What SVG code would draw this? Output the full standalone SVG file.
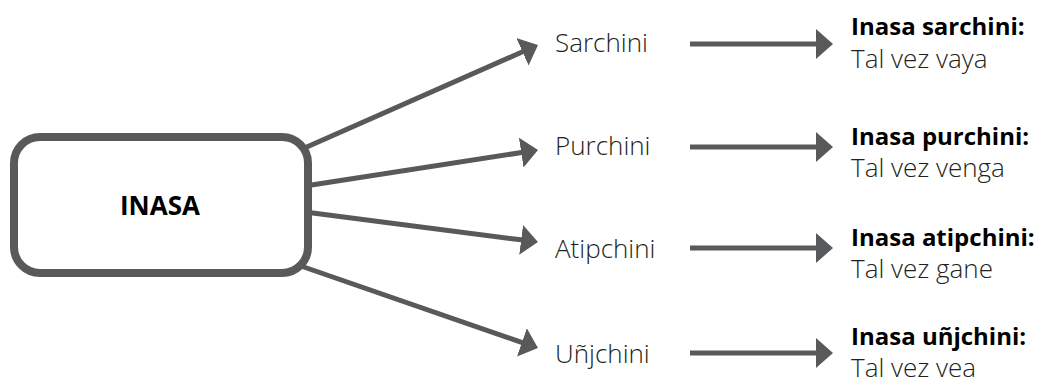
<svg xmlns="http://www.w3.org/2000/svg" width="1049" height="390" viewBox="0 0 1049 390">
<style>
.conn{stroke:#58595b;stroke-width:5;fill:none;marker-end:url(#ah)}
.box{fill:#fff;stroke:#58595b;stroke-width:8}
.main{font-family:"Open Sans","Liberation Sans",sans-serif;font-weight:700;font-size:26px;fill:#000}
.lbl{font-family:"Open Sans","Liberation Sans",sans-serif;font-weight:300;font-size:26px;fill:#231f20}
.hd{font-family:"Open Sans","Liberation Sans",sans-serif;font-weight:700;font-size:24px;fill:#000}
.sub{font-family:"Open Sans","Liberation Sans",sans-serif;font-weight:300;font-size:26px;fill:#231f20}
</style>
<defs>
<marker id="ah" markerUnits="userSpaceOnUse" markerWidth="20" markerHeight="32" refX="2" refY="15" orient="auto">
<path d="M0,0 L17,15 L0,30 Z" fill="#58595b"/>
</marker>
</defs>
<g id="connectors">
<line class="conn" x1="300" y1="150" x2="524.3" y2="51"/>
<line class="conn" x1="305" y1="186" x2="523.2" y2="152.3"/>
<line class="conn" x1="305" y1="212" x2="523.1" y2="240.1"/>
<line class="conn" x1="298" y1="265" x2="523.8" y2="343.1"/>
<line class="conn" x1="690" y1="44" x2="818" y2="44"/>
<line class="conn" x1="690" y1="147" x2="818" y2="147"/>
<line class="conn" x1="690" y1="248" x2="818" y2="248"/>
<line class="conn" x1="690" y1="353" x2="818" y2="353"/>
</g>
<g id="inasa">
<rect class="box" x="14" y="137" width="294" height="136" rx="26"/>
<text class="main" x="160" y="215" text-anchor="middle">INASA</text>
</g>
<g id="sarchini"><text class="lbl" x="555" y="52">Sarchini</text></g>
<g id="purchini"><text class="lbl" x="555" y="155">Purchini</text></g>
<g id="atipchini"><text class="lbl" x="555" y="258">Atipchini</text></g>
<g id="unjchini"><text class="lbl" x="555" y="363">Uñjchini</text></g>
<g id="res-sarchini"><text class="hd" x="851" y="35">Inasa sarchini:</text><text class="sub" x="851" y="68">Tal vez vaya</text></g>
<g id="res-purchini"><text class="hd" x="851" y="145">Inasa purchini:</text><text class="sub" x="851" y="177">Tal vez venga</text></g>
<g id="res-atipchini"><text class="hd" x="851" y="246">Inasa atipchini:</text><text class="sub" x="851" y="278">Tal vez gane</text></g>
<g id="res-unjchini"><text class="hd" x="851" y="345">Inasa uñjchini:</text><text class="sub" x="851" y="377">Tal vez vea</text></g>
</svg>
